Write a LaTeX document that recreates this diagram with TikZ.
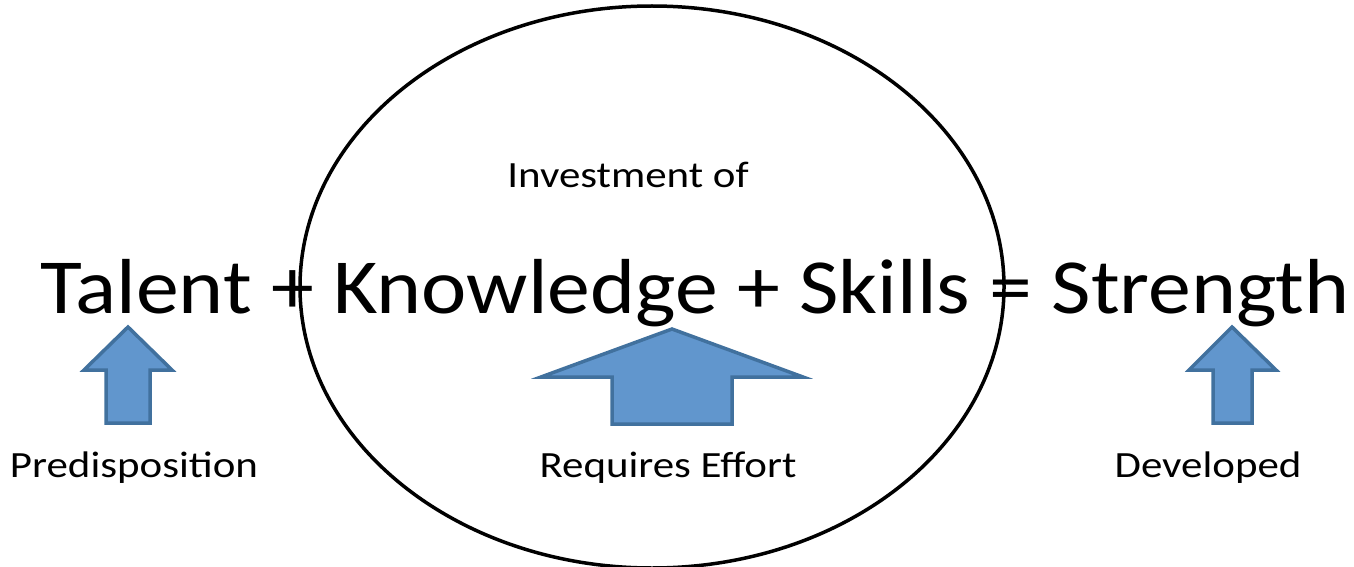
\documentclass[tikz,border=0pt]{standalone}
\usepackage{fontspec}
\setmainfont{Carlito}
\newfontfamily\mainwide[FakeStretch=1.10]{Carlito}
\newfontfamily\smallwide[FakeStretch=1.16]{Carlito}
\definecolor{arrfill}{RGB}{97,150,205}
\definecolor{arrline}{RGB}{65,113,158}
\tikzset{
  bigtext/.style={inner sep=0pt, anchor=base, font=\mainwide\fontsize{78}{80}\selectfont},
  smalltext/.style={inner sep=0pt, anchor=base, font=\smallwide\fontsize{37}{40}\selectfont},
  uparrow/.style={fill=arrfill, draw=arrline, line width=3.5pt, line join=miter},
}
\begin{document}
\begin{tikzpicture}[x=1pt,y=-1pt]
\useasboundingbox (0,0) rectangle (1354,567);
\node[bigtext] (eq) at (695,313) {Talent + Knowledge + Skills = Strength};
\node[smalltext] (inv) at (628,187) {Investment of};
\node[smalltext] (pre) at (134,477) {Predisposition};
\node[smalltext] (req) at (668,477) {Requires Effort};
\node[smalltext] (dev) at (1208,477) {Developed};
\draw[line width=3.5pt] (652,287) ellipse [x radius=352, y radius=281];
% arrows
\draw[uparrow] (128,327) -- (172,370) -- (150,370) -- (150,423) -- (106,423) -- (106,370) -- (84,370) -- cycle;
\draw[uparrow] (672,329) -- (803,377) -- (732,377) -- (732,424) -- (612,424) -- (612,377) -- (541,377) -- cycle;
\draw[uparrow] (1232,327) -- (1276,370) -- (1252,370) -- (1252,423) -- (1213,423) -- (1213,370) -- (1189,370) -- cycle;
\end{tikzpicture}
\end{document}
